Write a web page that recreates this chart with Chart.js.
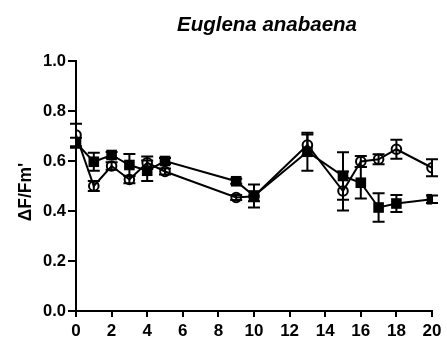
<!DOCTYPE html>
<html>
<head>
<meta charset="utf-8">
<script src="https://cdn.jsdelivr.net/npm/chart.js@4/dist/chart.umd.min.js"></script>
<style>
  html, body { margin: 0; padding: 0; background: #fff; }
  #wrap { width: 447px; height: 338px; }
</style>
</head>
<body>
<div id="wrap"><canvas id="fvChart" width="447" height="338"></canvas></div>
<script>
// time points (x) and the two series
const circleX   = [0, 1, 2, 3, 4, 5, 9, 10, 13, 15, 16, 17, 18, 20];
const circleY   = [0.704, 0.500, 0.580, 0.526, 0.593, 0.558, 0.454, 0.459, 0.664, 0.480, 0.598, 0.607, 0.647, 0.573];
const circleErr = [0.045, 0.020, 0.015, 0.015, 0.025, 0.012, 0.010, 0.020, 0.042, 0.078, 0.022, 0.020, 0.038, 0.034];

const squareX   = [0, 1, 2, 3, 4, 5, 9, 10, 13, 15, 16, 17, 18, 20];
const squareY   = [0.673, 0.597, 0.624, 0.584, 0.561, 0.600, 0.519, 0.460, 0.637, 0.540, 0.513, 0.414, 0.430, 0.447];
const squareErr = [0.020, 0.036, 0.012, 0.044, 0.041, 0.012, 0.010, 0.046, 0.076, 0.095, 0.063, 0.057, 0.034, 0.015];

const xTicks = [0, 2, 4, 6, 8, 10, 12, 14, 16, 18, 20];
const yTicks = [0.0, 0.2, 0.4, 0.6, 0.8, 1.0];

const fontFam = '"Liberation Sans", Arial, Helvetica, sans-serif';

function toPoints(xs, ys, es) {
    return xs.map((x, i) => ({ x: x, y: ys[i], err: es[i] }));
}

// error bars drawn under the markers, positions from the chart scales
const errorBars = {
    id: 'errorBars',
    beforeDatasetsDraw(chart) {
        const ctx = chart.ctx;
        const xs = chart.scales.x, ys = chart.scales.y;
        ctx.save();
        ctx.strokeStyle = '#000';
        ctx.lineWidth = 2;
        chart.data.datasets.forEach(ds => {
            ds.data.forEach(p => {
                const px = xs.getPixelForValue(p.x);
                const top = ys.getPixelForValue(p.y + p.err);
                const bot = ys.getPixelForValue(p.y - p.err);
                ctx.beginPath();
                ctx.moveTo(px, top); ctx.lineTo(px, bot);
                ctx.moveTo(px - 6, top); ctx.lineTo(px + 6, top);
                ctx.moveTo(px - 6, bot); ctx.lineTo(px + 6, bot);
                ctx.stroke();
            });
        });
        ctx.restore();
    }
};

// italic species name above the plot and the rotated y label
const textLabels = {
    id: 'textLabels',
    afterDraw(chart) {
        const ctx = chart.ctx;
        ctx.save();
        ctx.fillStyle = '#000';
        ctx.font = 'italic bold 20.5px ' + fontFam;
        ctx.textAlign = 'center';
        ctx.textBaseline = 'alphabetic';
        ctx.fillText('Euglena anabaena', 267, 31);

        ctx.translate(30.5, 192);
        ctx.rotate(-Math.PI / 2);
        ctx.font = 'bold 17.5px ' + fontFam;
        ctx.fillText("ΔF/Fm'", 0, 0);
        ctx.restore();
    }
};

const ctx = document.getElementById('fvChart').getContext('2d');
const fvChart = new Chart(ctx, {
    type: 'scatter',
    data: {
        datasets: [{
            label: 'squares',
            data: toPoints(squareX, squareY, squareErr),
            showLine: true,
            borderColor: '#000',
            borderWidth: 2,
            backgroundColor: '#000',
            pointStyle: 'rect',
            pointRadius: 7.5,
            pointBorderWidth: 0,
            order: 0
        }, {
            label: 'circles',
            data: toPoints(circleX, circleY, circleErr),
            showLine: true,
            borderColor: '#000',
            borderWidth: 2,
            backgroundColor: 'rgba(0,0,0,0)',
            pointStyle: 'circle',
            pointRadius: 4.8,
            pointBorderWidth: 2,
            order: 1
        }]
    },
    options: {
        responsive: false,
        animation: false,
        layout: { padding: { left: 0, top: 61, right: 15, bottom: 0 } },
        plugins: {
            legend: { display: false },
            tooltip: { enabled: false }
        },
        scales: {
            x: {
                type: 'linear',
                min: 0,
                max: 20,
                afterFit: s => { s.height = 27; },
                afterBuildTicks: s => { s.ticks = xTicks.map(v => ({ value: v })); },
                border: { color: '#000', width: 2 },
                grid: { drawOnChartArea: false, color: '#000', lineWidth: 2, tickLength: 6 },
                ticks: {
                    color: '#000',
                    padding: 4,
                    maxRotation: 0,
                    font: { family: fontFam, size: 17, weight: 'bold' }
                }
            },
            y: {
                min: 0,
                max: 1,
                afterFit: s => { s.width = 76; },
                afterBuildTicks: s => { s.ticks = yTicks.map(v => ({ value: v })); },
                border: { color: '#000', width: 2 },
                grid: { drawOnChartArea: false, color: '#000', lineWidth: 2, tickLength: 8 },
                ticks: {
                    color: '#000',
                    padding: 2,
                    callback: v => v.toFixed(1),
                    font: { family: fontFam, size: 16.5, weight: 'bold' }
                }
            }
        }
    },
    plugins: [errorBars, textLabels]
});
</script>
</body>
</html>
